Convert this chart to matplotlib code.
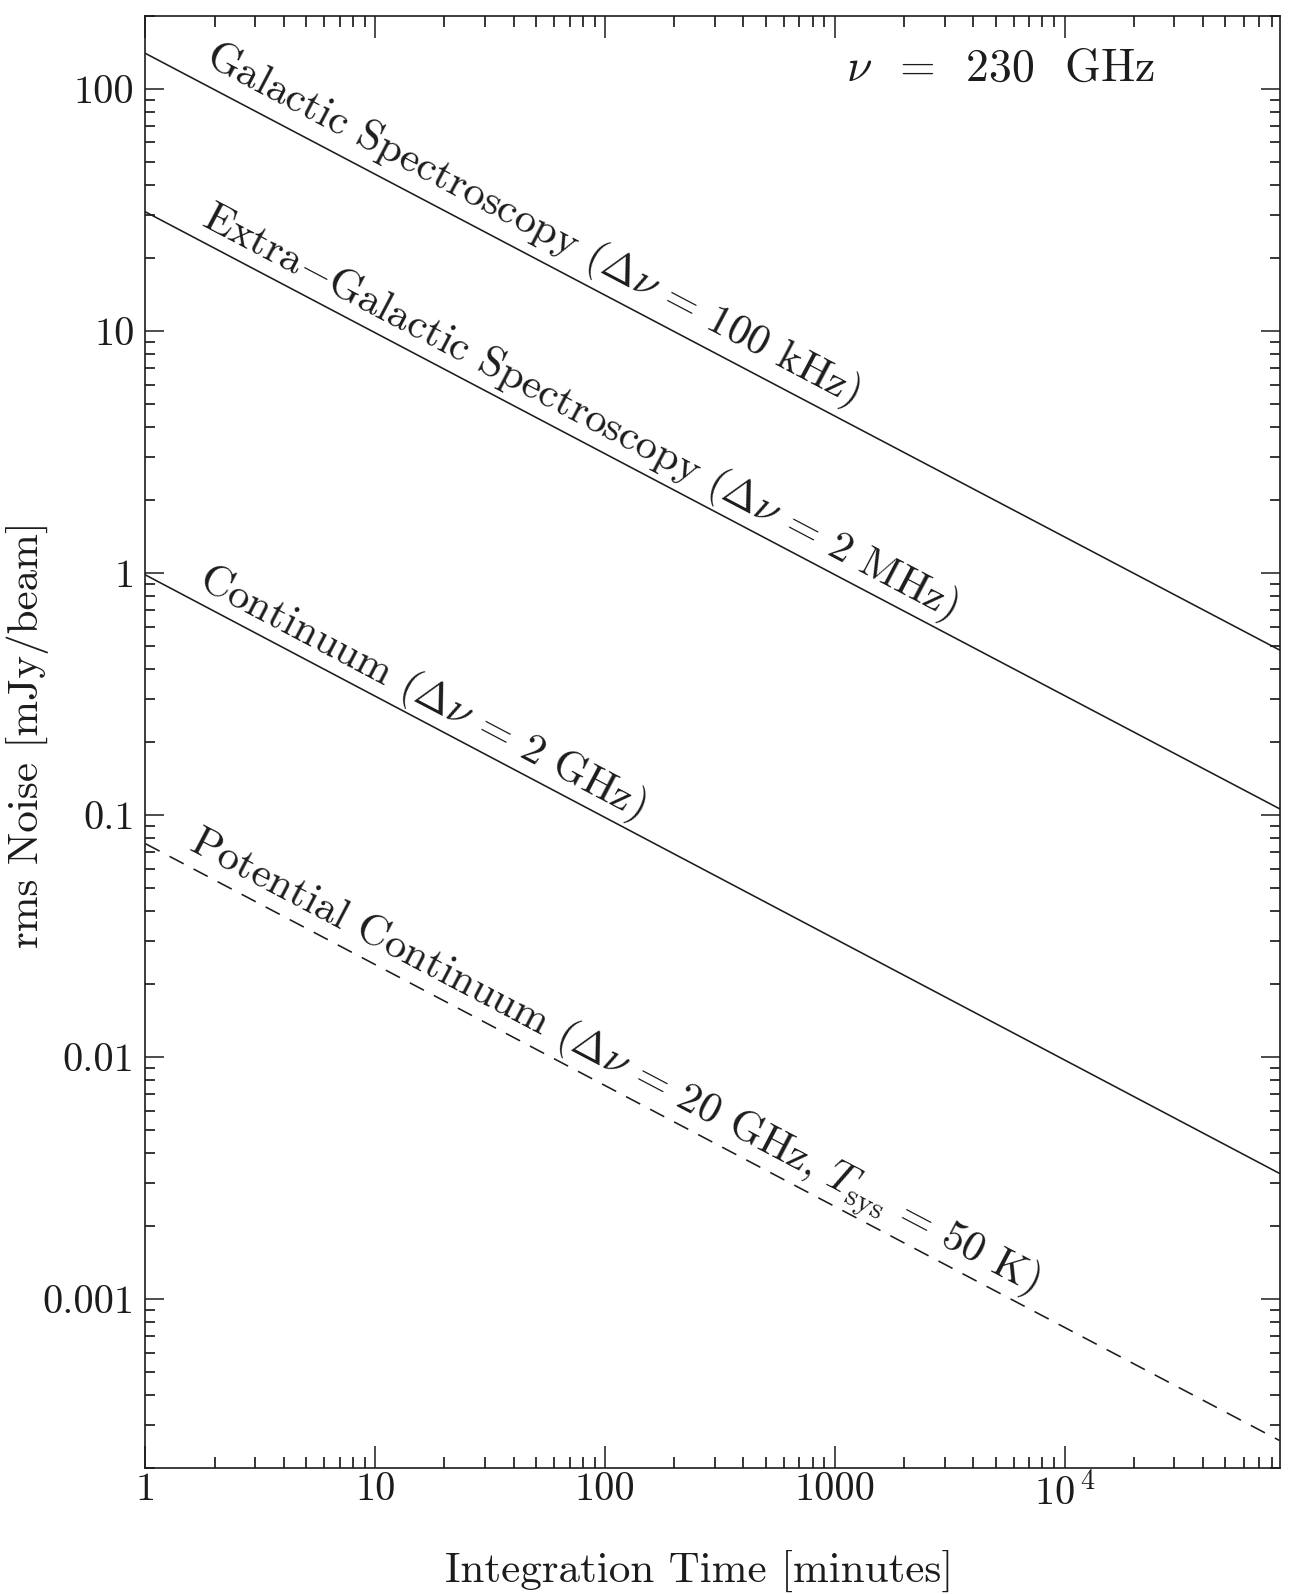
import numpy as np
import matplotlib
matplotlib.use("Agg")
import matplotlib.pyplot as plt
from matplotlib.ticker import FixedLocator, FixedFormatter, NullFormatter, LogLocator

plt.rcParams['font.family'] = ['cmr10', 'DejaVu Serif']
plt.rcParams['mathtext.fontset'] = 'cm'
plt.rcParams['axes.unicode_minus'] = False
plt.rcParams['axes.formatter.use_mathtext'] = True

# integration time at both ends of the plotted lines [minutes]
t_ends = [1, 86000]

# rms noise [mJy/beam] at those two times
galactic = [140, 0.48]
extragalactic = [31, 0.106]
continuum = [0.98, 0.0033]
potential = [0.076, 0.00026]

series = [galactic, extragalactic, continuum, potential]
series_styles = ['-', '-', '-', (0, (10, 7))]
series_labels = [
    r'Galactic Spectroscopy ($\Delta\nu$ = 100 kHz)',
    r'Extra$-$Galactic Spectroscopy ($\Delta\nu$ = 2 MHz)',
    r'Continuum ($\Delta\nu$ = 2 GHz)',
    r'Potential Continuum ($\Delta\nu$ = 20 GHz, $T_{\rm sys}$ = 50 K)',
]
# where along each line its label begins [minutes]
label_start_t = [1.64, 1.62, 1.56, 1.42]
label_gap = [13, 10, 10, 10]

x_ticks = [1, 10, 100, 1000, 10000]
x_tick_labels = ['1', '10', '100', '1000', r'10$^{\,4}$']
y_ticks = [0.001, 0.01, 0.1, 1, 10, 100]
y_tick_labels = ['0.001', '0.01', '0.1', '1', '10', '100']

ink = '#1c1c1c'
fs_tick = 29
fs_text = 31

fig = plt.figure(figsize=(12.99, 15.94), dpi=100)
ax = fig.add_axes([0.112, 0.079, 0.873, 0.911])
ax.set_xscale('log')
ax.set_yscale('log')
ax.set_xlim(1, 86000)
ax.set_ylim(2e-4, 200)

for vals, ls in zip(series, series_styles):
    ax.plot(t_ends, vals, color=ink, lw=1.15, linestyle=ls)

# label angle follows the line slope on screen
p0 = ax.transData.transform((t_ends[0], galactic[0]))
p1 = ax.transData.transform((t_ends[1], galactic[1]))
angle = np.degrees(np.arctan2(p1[1] - p0[1], p1[0] - p0[0]))
nx, ny = -np.sin(np.radians(angle)), np.cos(np.radians(angle))

for vals, text, t0, gap in zip(series, series_labels, label_start_t, label_gap):
    y0 = np.exp(np.interp(np.log(t0), np.log(t_ends), np.log(vals)))
    ax.annotate(text, xy=(t0, y0), xytext=(gap * nx, gap * ny),
                textcoords='offset points', rotation=angle,
                rotation_mode='anchor', ha='left', va='baseline',
                fontsize=fs_text, color=ink)

ax.text(0.618, 0.9635, r'$\nu$  =  230  GHz', transform=ax.transAxes,
        fontsize=fs_text + 2, color=ink, ha='left', va='center')

ax.xaxis.set_major_locator(FixedLocator(x_ticks))
ax.xaxis.set_major_formatter(FixedFormatter(x_tick_labels))
ax.yaxis.set_major_locator(FixedLocator(y_ticks))
ax.yaxis.set_major_formatter(FixedFormatter(y_tick_labels))
ax.xaxis.set_minor_locator(LogLocator(base=10, subs=np.arange(2, 10), numticks=20))
ax.yaxis.set_minor_locator(LogLocator(base=10, subs=np.arange(2, 10), numticks=20))
ax.xaxis.set_minor_formatter(NullFormatter())
ax.yaxis.set_minor_formatter(NullFormatter())

ax.tick_params(axis='x', which='major', direction='in', length=16, width=1.1,
               top=True, bottom=True, labelsize=fs_tick, pad=3, colors=ink)
ax.tick_params(axis='x', which='minor', direction='in', length=8, width=1.1,
               top=True, bottom=True)
ax.tick_params(axis='y', which='major', direction='in', length=14, width=1.1,
               left=True, right=True, labelsize=fs_tick, pad=8, colors=ink)
ax.tick_params(axis='y', which='minor', direction='in', length=7, width=1.1,
               left=True, right=True)
for sp in ax.spines.values():
    sp.set_linewidth(1.2)
    sp.set_color(ink)

ax.set_xlabel('Integration Time [minutes]', fontsize=fs_text, color=ink)
ax.set_ylabel('rms Noise [mJy/beam]', fontsize=fs_text, color=ink)
ax.xaxis.set_label_coords(0.4885, -0.056)
ax.yaxis.set_label_coords(-0.085, 0.505)

fig.savefig('out.png', dpi=100, facecolor='white')
